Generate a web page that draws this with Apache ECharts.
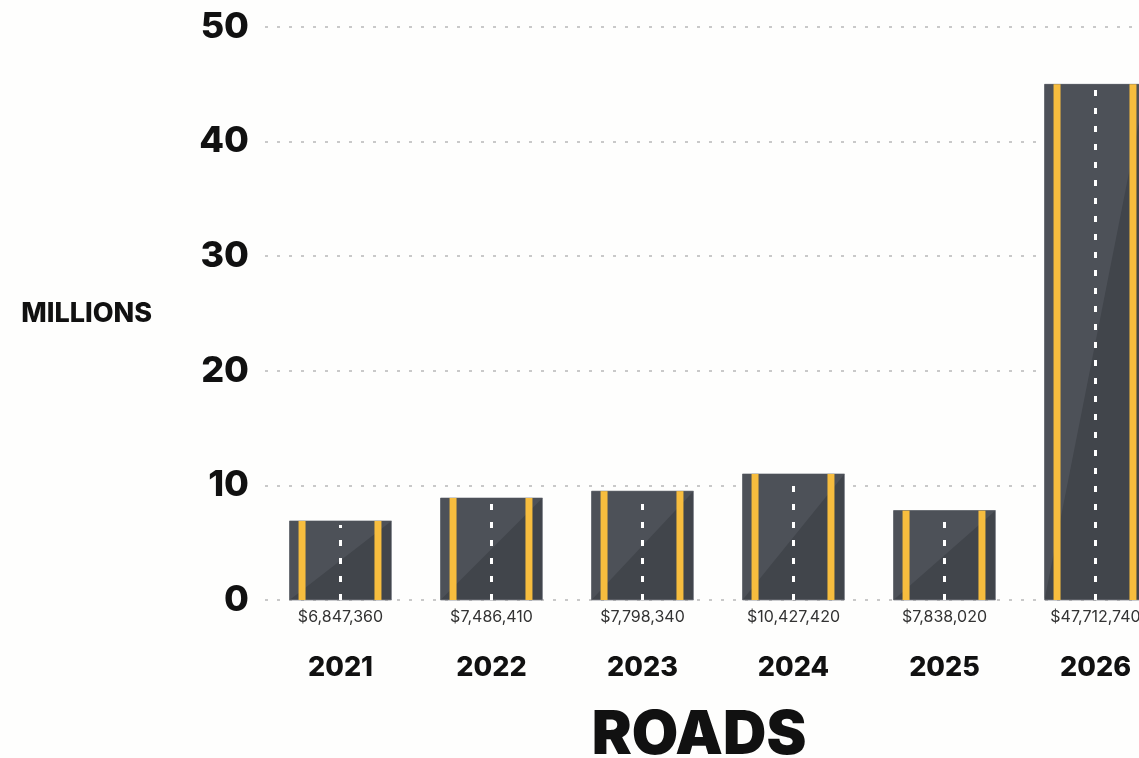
<!DOCTYPE html>
<html>
<head>
<meta charset="utf-8">
<script src="https://cdn.jsdelivr.net/npm/echarts@6/dist/echarts.min.js"></script>
<style>
html,body{margin:0;padding:0;background:#fefefd;overflow:hidden;}
#c{width:1171px;height:758px;}
</style>
</head>
<body>
<div id="c"></div>
<script>
// ---- data ----
const years = ['2021', '2022', '2023', '2024', '2025', '2026'];
const barHeights = [6.9, 8.9, 9.5, 11.0, 7.8, 45.0];   // millions, as drawn
const amountLabels = ['$6,847,360', '$7,486,410', '$7,798,340', '$10,427,420', '$7,838,020', '$47,712,740'];
const yTicks = [0, 10, 20, 30, 40, 50];

const FONT = 'Inter, "Noto Sans", sans-serif';
const chart = echarts.init(document.getElementById('c'), null, {renderer: 'canvas'});

function renderRoad(params, api) {
  const xi = api.value(0), v = api.value(1);
  const top = api.coord([xi, v]);
  const base = api.coord([xi, 0]);
  const band = api.size([1, 0])[0];
  const w = band * 0.675;
  const x0 = top[0] - w / 2, x1 = x0 + w, y0 = top[1], y1 = base[1];
  const h = y1 - y0;
  const cx = top[0];
  return {
    type: 'group',
    children: [
      {type: 'rect', shape: {x: x0, y: y0, width: w, height: h},
       style: {fill: '#41454b', stroke: '#80848a', lineWidth: 0.8}},
      {type: 'polygon', shape: {points: [[x0, y0], [x1, y0], [x0, y1]]},
       style: {fill: '#4d5158'}},
      {type: 'rect', shape: {x: x0 + 9, y: y0, width: 7, height: h},
       style: {fill: '#f7bd3e'}},
      {type: 'rect', shape: {x: x1 - 17, y: y0, width: 7, height: h},
       style: {fill: '#f7bd3e'}},
      {type: 'line', shape: {x1: cx, y1: y1, x2: cx, y2: y0 + 4},
       style: {stroke: '#ffffff', lineWidth: 3, lineDash: [6, 12]}}
    ]
  };
}

const option = {
  backgroundColor: '#fefefd',
  animation: false,
  title: {
    text: 'ROADS',
    left: 694, top: 701, textAlign: 'center',
    textStyle: {fontFamily: FONT, fontSize: 60, fontWeight: 900, color: '#111'}
  },
  grid: {left: 265, right: 0, top: 27, bottom: 158, containLabel: false},
  xAxis: {
    type: 'category',
    data: years,
    axisLine: {show: false},
    axisTick: {show: false},
    splitLine: {show: false},
    axisLabel: {
      interval: 0,
      margin: 8,
      formatter: function (val, idx) {
        return '{v|' + amountLabels[idx] + '}\n{y|' + val + '}';
      },
      rich: {
        v: {fontFamily: FONT, fontSize: 16, color: '#333', lineHeight: 18},
        y: {fontFamily: FONT, fontSize: 27, fontWeight: 800, color: '#111', lineHeight: 84}
      }
    }
  },
  yAxis: {
    type: 'value',
    min: 0, max: 50, interval: 10,
    name: 'MILLIONS',
    nameLocation: 'middle',
    nameRotate: 0,
    nameGap: 113,
    nameTextStyle: {fontFamily: FONT, fontSize: 27, fontWeight: 800, color: '#111', align: 'right'},
    axisLine: {show: false},
    axisTick: {show: false},
    axisLabel: {
      margin: 16,
      fontFamily: FONT, fontSize: 36, fontWeight: 800, color: '#111',
      formatter: function (v) { return yTicks.indexOf(v) >= 0 ? String(v) : ''; }
    },
    splitLine: {show: true, lineStyle: {color: '#b8b8b8', width: 1.5, type: [3, 9]}}
  },
  series: [{
    type: 'custom',
    renderItem: renderRoad,
    clip: false,
    data: years.map((y, i) => [i, barHeights[i]]),
    encode: {x: 0, y: 1}
  }]
};
chart.setOption(option);
</script>
</body>
</html>
